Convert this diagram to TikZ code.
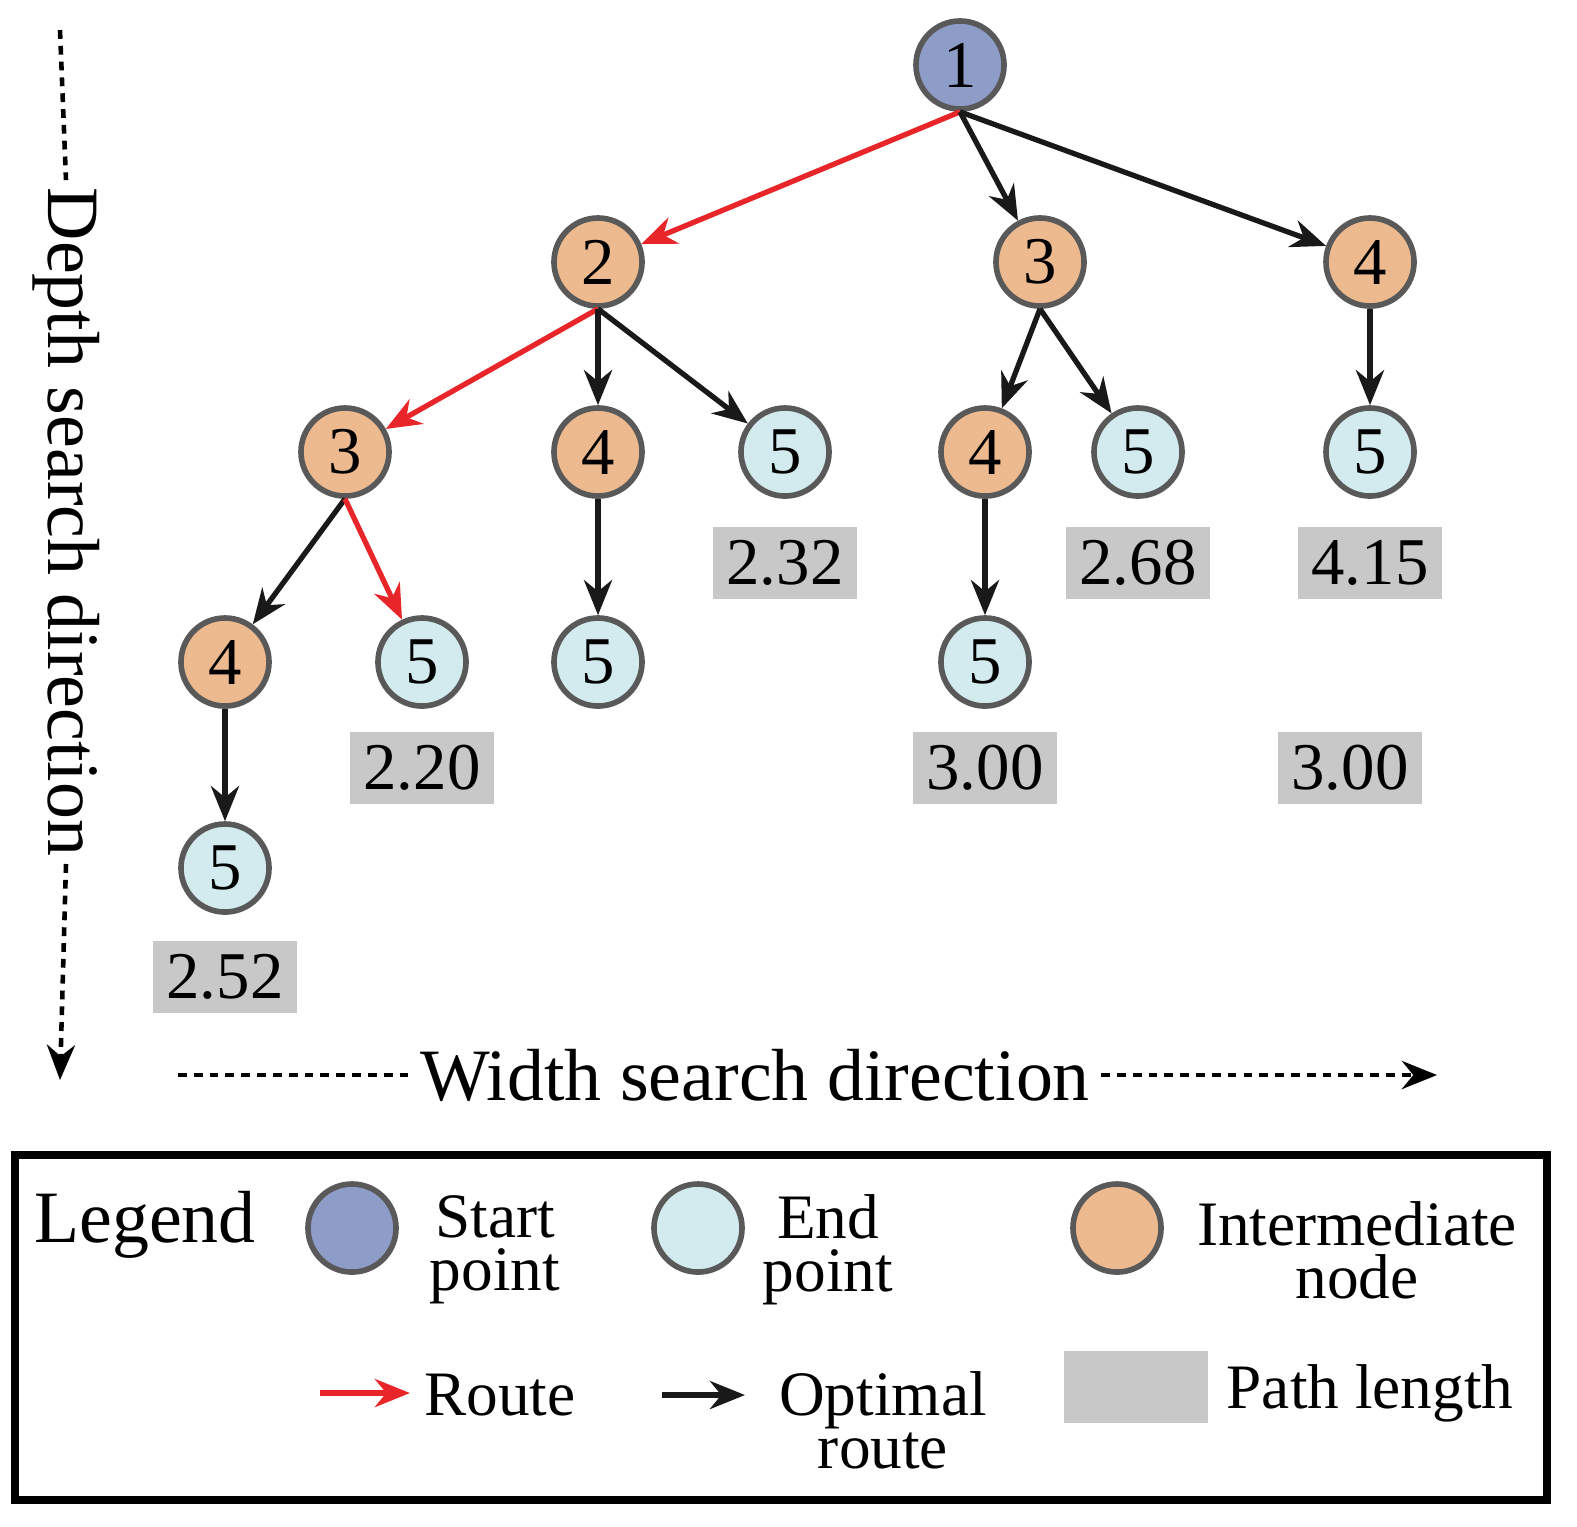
\documentclass[tikz,border=0pt]{standalone}
\usepackage{fontspec}
\setmainfont{Liberation Serif}
\usetikzlibrary{arrows.meta}
\definecolor{cblue}{HTML}{8E9DC8}
\definecolor{corange}{HTML}{EDB98F}
\definecolor{clight}{HTML}{D3EBEE}
\definecolor{cgray}{HTML}{C8C8C8}
\definecolor{cred}{HTML}{E8262A}
\begin{document}
\begin{tikzpicture}[x=0.01cm,y=-0.01cm,
 nd/.style={circle,draw=black!65,line width=1.6pt,minimum size=0.88cm,inner sep=0pt,font=\fontsize{19}{19}\selectfont},
 st/.style={nd,fill=cblue},
 im/.style={nd,fill=corange},
 en/.style={nd,fill=clight},
 pl/.style={fill=cgray,minimum width=1.43cm,minimum height=0.72cm,inner sep=0pt,font=\fontsize{19}{19}\selectfont},
 ar/.style={-{Stealth[length=10pt,width=8pt]},line width=1.5pt,black!90},
 rr/.style={ar,cred},
 dt/.style={line width=1.3pt,dash pattern=on 2.5pt off 2pt},
 lt/.style={font=\fontsize{18}{15}\selectfont,align=center}]
\useasboundingbox (0,0) rectangle (1577,1526);
\node[st] (n1) at (960,65) {1};
\node[im] (n2) at (598,262) {2};
\node[im] (n3) at (1040,262) {3};
\node[im] (n4) at (1370,262) {4};
\node[im] (a3) at (345,452) {3};
\node[im] (a4) at (598,452) {4};
\node[en] (a5) at (785,452) {5};
\node[im] (b4) at (985,452) {4};
\node[en] (b5) at (1138,452) {5};
\node[en] (c5) at (1370,452) {5};
\node[im] (d4) at (225,662) {4};
\node[en] (d5) at (422,662) {5};
\node[en] (e5) at (598,662) {5};
\node[en] (f5) at (985,662) {5};
\node[en] (g5) at (225,868) {5};
\node[pl] (l1) at (785,563) {2.32};
\node[pl] (l2) at (1138,563) {2.68};
\node[pl] (l3) at (1370,563) {4.15};
\node[pl] (l4) at (422,768) {2.20};
\node[pl] (l5) at (985,768) {3.00};
\node[pl] (l6) at (1350,768) {3.00};
\node[pl] (l7) at (225,977) {2.52};
\draw[rr] (n1.south) -- (n2);
\draw[ar] (n1.south) -- (n3);
\draw[ar] (n1.south) -- (n4);
\draw[rr] (n2.south) -- (a3);
\draw[ar] (n2.south) -- (a4);
\draw[ar] (n2.south) -- (a5);
\draw[ar] (n3.south) -- (b4);
\draw[ar] (n3.south) -- (b5);
\draw[ar] (n4) -- (c5);
\draw[ar] (a3.south) -- (d4);
\draw[rr] (a3.south) -- (d5);
\draw[ar] (a4) -- (e5);
\draw[ar] (b4) -- (f5);
\draw[ar] (d4) -- (g5);
% directions
\node[rotate=-90,font=\fontsize{21}{21}\selectfont,inner sep=2pt] (dtx) at (66,522) {Depth search direction};
\coordinate (dt0) at (60,30);
\coordinate (dt1) at (60,1080);
\draw[dt] (dt0) -- (dtx.west);
\draw[dt,-{Stealth[length=10pt,width=8pt]}] (dtx.east) -- (dt1);
\node[font=\fontsize{21}{21}\selectfont,inner sep=3pt] (wtx) at (755,1075) {Width search direction};
\coordinate (wt0) at (178,1075);
\coordinate (wt1) at (1437,1075);
\draw[dt] (wt0) -- (wtx.west);
\draw[dt,-{Stealth[length=10pt,width=8pt]}] (wtx.east) -- (wt1);
% legend
\draw[line width=2.2pt] (15,1155) rectangle (1547,1500);
\node[font=\fontsize{21}{21}\selectfont] (lg) at (145,1225) {Legend};
\node[st] (ls) at (352,1228) {};
\node[lt] (lst) at (495,1250) {Start\\point};
\node[en] (le) at (698,1228) {};
\node[lt] (let) at (828,1250) {End\\point};
\node[im] (li) at (1117,1228) {};
\node[lt] (lit) at (1357,1250) {Intermediate\\node};
\coordinate (r0) at (320,1393); \coordinate (r1) at (410,1393);
\draw[rr] (r0) -- (r1);
\node[lt] (rt) at (500,1395) {Route};
\coordinate (o0) at (662,1395); \coordinate (o1) at (745,1395);
\draw[ar] (o0) -- (o1);
\node[lt] (ot) at (883,1420) {Optimal\\route};
\node[pl] (lp) at (1136,1387) {};
\node[lt] (lpt) at (1370,1393) {Path length};
\end{tikzpicture}
\end{document}
